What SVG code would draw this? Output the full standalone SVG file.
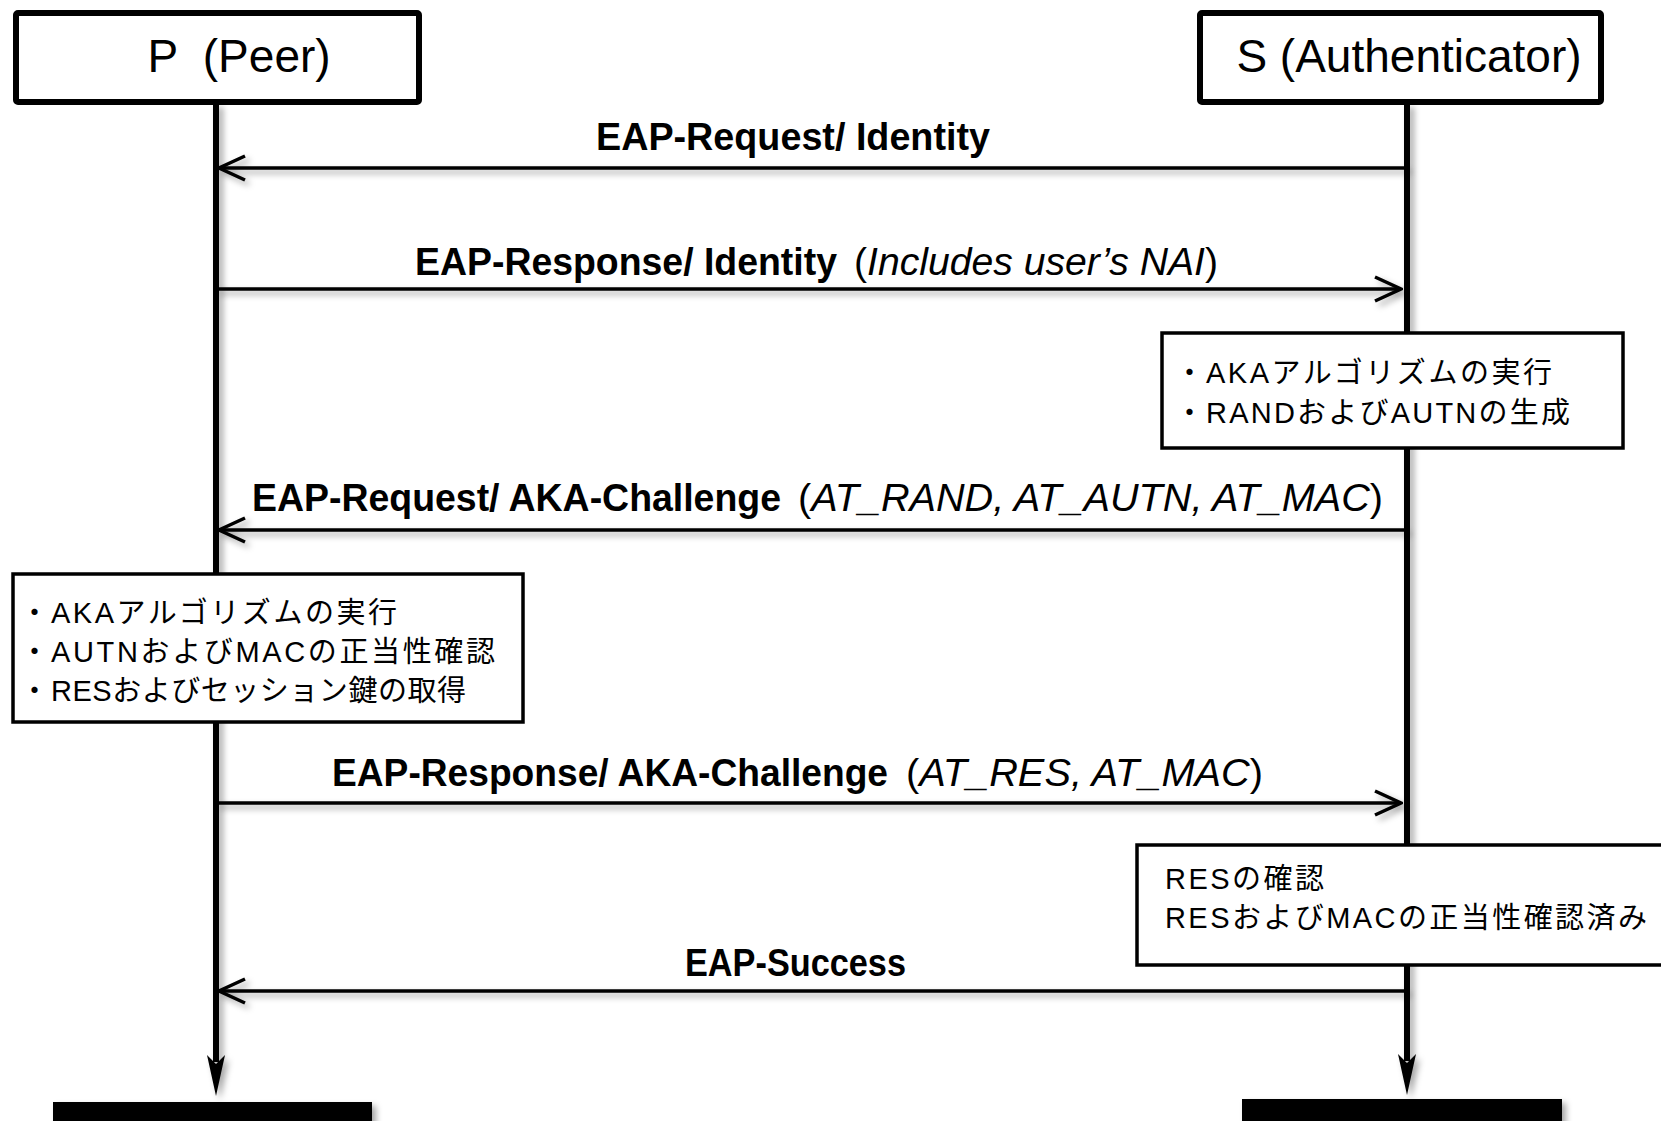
<svg xmlns="http://www.w3.org/2000/svg" width="1661" height="1121" viewBox="0 0 1661 1121">
<style>
.title{font-family:"Liberation Sans",Arial,sans-serif;font-size:46px;fill:#000;white-space:pre}
.lbl{font-family:"Liberation Sans",Arial,sans-serif;font-size:38px;font-weight:bold;fill:#000}
.prm{font-family:"Liberation Sans",Arial,sans-serif;font-size:38px;fill:#000}
.it{font-style:italic}
.jp{font-family:"Liberation Sans","Noto Sans CJK JP",sans-serif;font-size:29px;fill:#000}
.hdr{fill:#fff;stroke:#000;stroke-width:6}
.note{fill:#fff;stroke:#000;stroke-width:3.5}
.life{stroke:#000;stroke-width:6;fill:none}
.msg{stroke:#000;stroke-width:3.5;fill:none;marker-end:url(#chev)}
.bar{fill:#000}
</style>
<defs>
<filter id="sh" filterUnits="userSpaceOnUse" x="0" y="0" width="1661" height="1121">
<feDropShadow dx="4" dy="4" stdDeviation="3" flood-color="#000" flood-opacity="0.35"/>
</filter>
<marker id="chev" viewBox="0 0 30 30" refX="28" refY="15" markerWidth="30" markerHeight="30" markerUnits="userSpaceOnUse" orient="auto">
<path d="M2,3 L28,15 L2,27" fill="none" stroke="#000" stroke-width="3.5"/>
</marker>
</defs>
<rect width="1661" height="1121" fill="#fff"/>

<g id="lifelines">
<g id="lifeline-P" filter="url(#sh)">
<line class="life" x1="216" y1="103" x2="216" y2="1062"/>
<path d="M216,1096 L207,1055 L216,1064 L225,1055 Z" fill="#000"/>
</g>
<g id="lifeline-S" filter="url(#sh)">
<line class="life" x1="1407" y1="103" x2="1407" y2="1061"/>
<path d="M1407,1095 L1398,1054 L1407,1063 L1416,1054 Z" fill="#000"/>
</g>
</g>

<g id="connectors">
<g id="m1">
<line class="msg" x1="1407" y1="168" x2="219" y2="168" filter="url(#sh)"/>
<text class="lbl" x="596" y="150" textLength="394" lengthAdjust="spacingAndGlyphs">EAP-Request/ Identity</text>
</g>
<g id="m2">
<line class="msg" x1="216" y1="289" x2="1401" y2="289" filter="url(#sh)"/>
<text class="lbl" x="415" y="275" textLength="422" lengthAdjust="spacingAndGlyphs">EAP-Response/ Identity</text>
<text class="prm" x="854" y="275" textLength="364" lengthAdjust="spacingAndGlyphs">(<tspan class="it">Includes user’s NAI</tspan>)</text>
</g>
<g id="m3">
<line class="msg" x1="1407" y1="530" x2="219" y2="530" filter="url(#sh)"/>
<text class="lbl" x="252" y="511" textLength="529" lengthAdjust="spacingAndGlyphs">EAP-Request/ AKA-Challenge</text>
<text class="prm" x="798" y="511" textLength="585" lengthAdjust="spacingAndGlyphs">(<tspan class="it">AT_RAND, AT_AUTN, AT_MAC</tspan>)</text>
</g>
<g id="m4">
<line class="msg" x1="216" y1="803" x2="1401" y2="803" filter="url(#sh)"/>
<text class="lbl" x="332" y="786" textLength="556" lengthAdjust="spacingAndGlyphs">EAP-Response/ AKA-Challenge</text>
<text class="prm" x="906" y="786" textLength="357" lengthAdjust="spacingAndGlyphs">(<tspan class="it">AT_RES, AT_MAC</tspan>)</text>
</g>
<g id="m5">
<line class="msg" x1="1407" y1="991" x2="219" y2="991" filter="url(#sh)"/>
<text class="lbl" x="685" y="976" textLength="221" lengthAdjust="spacingAndGlyphs">EAP-Success</text>
</g>
</g>

<g id="node-P">
<rect class="hdr" x="16" y="13" width="403" height="89" rx="2"/>
<text class="title" x="239" y="72" text-anchor="middle">P  (Peer)</text>
</g>
<g id="node-S">
<rect class="hdr" x="1200" y="13" width="401" height="89" rx="2"/>
<text class="title" x="1409" y="72" text-anchor="middle">S (Authenticator)</text>
</g>

<g id="note-S1">
<rect class="note" x="1162" y="333" width="461" height="115"/>
<text class="jp" x="1175" y="383">・</text>
<text class="jp" x="1206" y="383" textLength="346">AKAアルゴリズムの実行</text>
<text class="jp" x="1175" y="423">・</text>
<text class="jp" x="1206" y="423" textLength="364">RANDおよびAUTNの生成</text>
</g>
<g id="note-P1">
<rect class="note" x="13" y="574" width="510" height="148"/>
<text class="jp" x="20" y="623">・</text>
<text class="jp" x="51" y="623" textLength="346">AKAアルゴリズムの実行</text>
<text class="jp" x="20" y="662">・</text>
<text class="jp" x="51" y="662" textLength="444">AUTNおよびMACの正当性確認</text>
<text class="jp" x="20" y="701">・</text>
<text class="jp" x="51" y="701" textLength="415">RESおよびセッション鍵の取得</text>
</g>
<g id="note-S2">
<rect class="note" x="1137" y="845" width="560" height="120"/>
<text class="jp" x="1165" y="889" textLength="159">RESの確認</text>
<text class="jp" x="1165" y="928" textLength="482">RESおよびMACの正当性確認済み</text>
</g>

<g id="end-P" filter="url(#sh)">
<rect class="bar" x="53" y="1102" width="319" height="25"/>
</g>
<g id="end-S" filter="url(#sh)">
<rect class="bar" x="1242" y="1099" width="320" height="28"/>
</g>
</svg>
